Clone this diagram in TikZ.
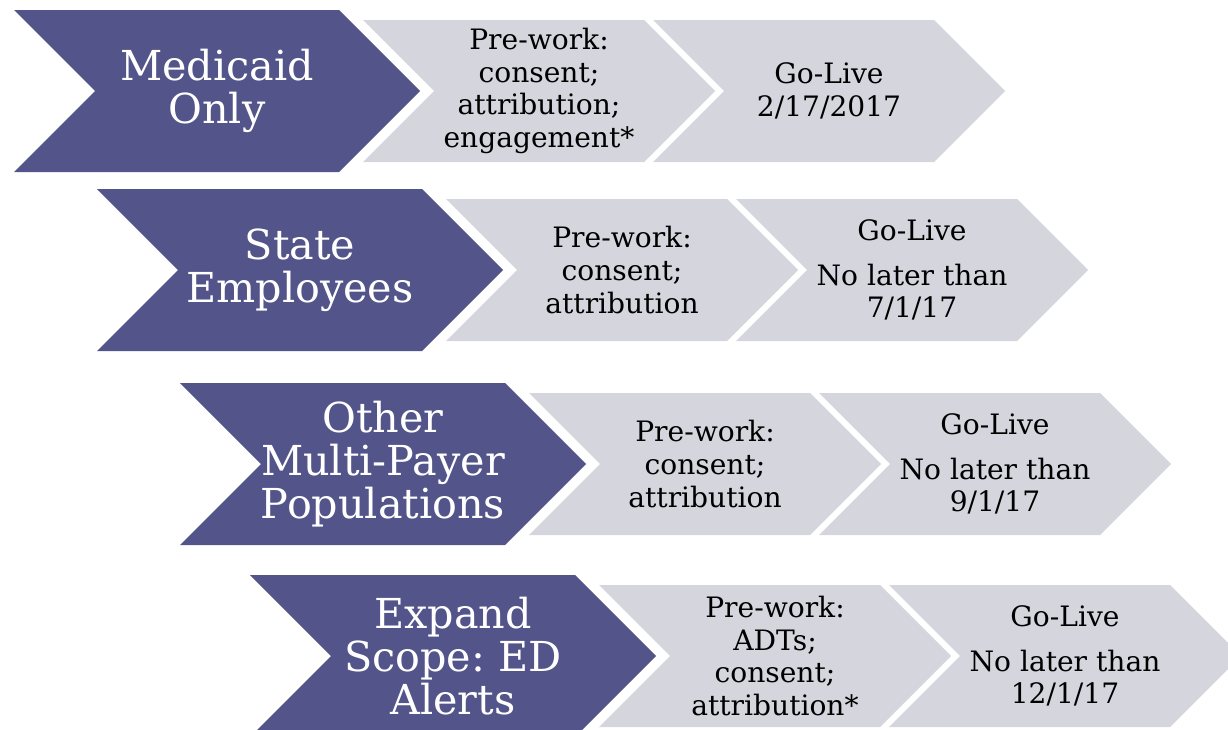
\documentclass[tikz,border=0pt]{standalone}
\usepackage{fontspec}
\setmainfont{DejaVu Serif}
\usetikzlibrary{calc}
\frenchspacing

\definecolor{popcolor}{RGB}{83,84,138}
\definecolor{stepcolor}{RGB}{212,213,221}

\begin{document}
\begin{tikzpicture}[x=0.02cm,y=-0.02cm,
	popbox/.style={fill=popcolor},
	stepbox/.style={fill=stepcolor},
	poptext/.style={text=white,align=center,font=\fontsize{23.5}{24.5}\selectfont},
	steptext/.style={align=center,font=\fontsize{16}{18.6}\selectfont}]
	\useasboundingbox (0,0) rectangle (1228,730);
	\clip (0,0) rectangle (1228,730);
	\foreach \L/\T/\n/\pop/\pre/\live in {
		14/10/1/{Medicaid\\Only}/{Pre-work:\\consent;\\attribution;\\engagement*}/{Go-Live\\2/17/2017},
		97/189/2/{State\\Employees}/{Pre-work:\\consent;\\attribution}/{Go-Live\\[7pt]No later than\\7/1/17},
		180/383/3/{Other\\Multi-Payer\\Populations}/{Pre-work:\\consent;\\attribution}/{Go-Live\\[7pt]No later than\\9/1/17},
		250/575/4/{Expand\\Scope: ED\\Alerts}/{Pre-work:\\ADTs;\\consent;\\attribution*}/{Go-Live\\[7pt]No later than\\12/1/17}}
	{
		% grey steps first, then the population arrow
		\draw[stepbox,draw=none] (\L+349,\T+10) -- ++(281,0) -- ++(71,71) -- ++(-71,71) -- ++(-281,0) -- ++(71,-71) -- cycle;
		\draw[stepbox,draw=none] (\L+639,\T+10) -- ++(281,0) -- ++(71,71) -- ++(-71,71) -- ++(-281,0) -- ++(71,-71) -- cycle;
		\draw[popbox,draw=none] (\L,\T) -- ++(325,0) -- ++(81,81) -- ++(-81,81) -- ++(-325,0) -- ++(81,-81) -- cycle;
		\draw (\L+203,\T+81) node (pop\n) [poptext] {\pop};
		\draw (\L+525,\T+81) node (pre\n) [steptext] {\pre};
		\draw (\L+815,\T+81) node (live\n) [steptext] {\live};
	}
\end{tikzpicture}
\end{document}
